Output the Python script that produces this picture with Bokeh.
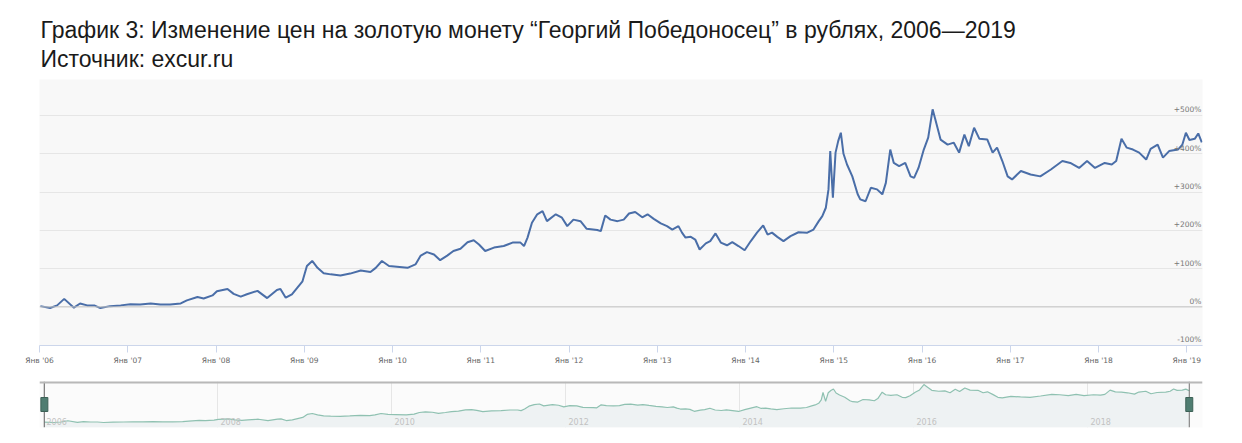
from bokeh.plotting import figure
from bokeh.models import FixedTicker, Span, ColumnDataSource, Range1d, Spacer
from bokeh.layouts import column
from bokeh.embed import file_html
from bokeh.resources import INLINE
from bokeh.core.properties import value

TITLE = "График 3: Изменение цен на золотую монету “Георгий Победоносец” в рублях, 2006—2019"
SUBTITLE = "Источник: excur.ru"

# time in fractional years, price change in %
dates = [
    2006.01, 2006.12, 2006.20, 2006.28, 2006.39, 2006.46, 2006.54, 2006.62, 2006.69, 2006.80,
    2006.92, 2007.03, 2007.14, 2007.26, 2007.37, 2007.48, 2007.60, 2007.67, 2007.79, 2007.86,
    2007.96, 2008.01, 2008.13, 2008.20, 2008.28, 2008.35, 2008.47, 2008.58, 2008.69, 2008.73,
    2008.79, 2008.86, 2008.92, 2008.98, 2009.03, 2009.09, 2009.15, 2009.22, 2009.30, 2009.41,
    2009.52, 2009.64, 2009.75, 2009.81, 2009.88, 2009.96, 2010.05, 2010.17, 2010.26, 2010.32,
    2010.39, 2010.47, 2010.54, 2010.62, 2010.69, 2010.77, 2010.85, 2010.92, 2010.98, 2011.05,
    2011.15, 2011.26, 2011.36, 2011.45, 2011.49, 2011.53, 2011.58, 2011.64, 2011.70, 2011.75,
    2011.85, 2011.92, 2011.98, 2012.05, 2012.13, 2012.20, 2012.32, 2012.36, 2012.41, 2012.47,
    2012.55, 2012.62, 2012.68, 2012.75, 2012.83, 2012.89, 2012.96, 2013.04, 2013.11, 2013.17,
    2013.24, 2013.28, 2013.32, 2013.38, 2013.43, 2013.48, 2013.55, 2013.60, 2013.66, 2013.72,
    2013.79, 2013.85, 2013.92, 2013.99, 2014.06, 2014.13, 2014.20, 2014.25, 2014.30, 2014.36,
    2014.43, 2014.51, 2014.60, 2014.70, 2014.77, 2014.83, 2014.87, 2014.91, 2014.94, 2014.96,
    2014.99, 2015.02, 2015.05, 2015.08, 2015.11, 2015.15, 2015.21, 2015.27, 2015.30, 2015.36,
    2015.42, 2015.49, 2015.55, 2015.59, 2015.64, 2015.68, 2015.74, 2015.81, 2015.87, 2015.91,
    2015.96, 2016.02, 2016.07, 2016.12, 2016.15, 2016.21, 2016.29, 2016.36, 2016.42, 2016.48,
    2016.53, 2016.59, 2016.65, 2016.74, 2016.80, 2016.85, 2016.91, 2016.97, 2017.02, 2017.12,
    2017.23, 2017.34, 2017.46, 2017.59, 2017.68, 2017.78, 2017.87, 2017.96, 2018.07, 2018.15,
    2018.20, 2018.26, 2018.32, 2018.39, 2018.46, 2018.54, 2018.59, 2018.67, 2018.73, 2018.80,
    2018.90, 2018.95, 2018.99, 2019.03, 2019.09, 2019.13, 2019.17,
]
change_pct = [
    2, -3, 4, 21, -2, 9, 4, 4, -3, 2,
    4, 7, 6, 9, 6, 6, 9, 17, 26, 22,
    30, 41, 47, 34, 27, 33, 42, 23, 44, 47,
    24, 33, 50, 67, 107, 120, 102, 88, 85, 82,
    87, 95, 91, 102, 120, 107, 105, 102, 111, 134,
    143, 137, 122, 134, 146, 152, 169, 174, 163, 146,
    155, 159, 168, 168, 159, 181, 220, 242, 250, 224,
    242, 233, 211, 228, 224, 204, 201, 198, 239, 228,
    224, 228, 244, 248, 234, 242, 230, 218, 211, 202,
    211, 194, 181, 183, 176, 150, 166, 172, 192, 168,
    161, 169, 159, 148, 172, 194, 213, 189, 194, 183,
    172, 185, 195, 194, 202, 224, 237, 259, 307, 407,
    285, 403, 433, 455, 400, 372, 341, 295, 281, 276,
    311, 307, 294, 324, 411, 376, 368, 376, 341, 337,
    363, 411, 442, 516, 490, 437, 424, 429, 403, 450,
    420, 468, 439, 437, 403, 416, 381, 341, 333, 355,
    346, 341, 359, 381, 376, 363, 381, 363, 376, 372,
    381, 439, 416, 411, 403, 385, 413, 424, 390, 407,
    411, 424, 455, 436, 439, 453, 430,
]

x_ticks = list(range(2006, 2020))
x_tick_labels = ["Янв '06", "Янв '07", "Янв '08", "Янв '09", "Янв '10", "Янв '11", "Янв '12",
                 "Янв '13", "Янв '14", "Янв '15", "Янв '16", "Янв '17", "Янв '18", "Янв '19"]
y_ticks = [-100, 0, 100, 200, 300, 400, 500]
y_tick_labels = ["-100%", "0%", "+100%", "+200%", "+300%", "+400%", "+500%"]
nav_years = [2006, 2008, 2010, 2012, 2014, 2016, 2018]
nav_labels = ["2006", "2008", "2010", "2012", "2014", "2016", "2018"]

LINE = "#4a6ea8"
FONT = "DejaVu Sans"

# ---------------- main chart ----------------
x0, x1 = 2006.0, 2019.178
y0, y1 = -100.8, 594
p = figure(frame_width=1163, frame_height=266, x_range=Range1d(x0, x1), y_range=Range1d(y0, y1),
           output_backend="svg", toolbar_location=None,
           min_border_left=39, min_border_right=40, min_border_bottom=32, min_border_top=0)
p.title.text = TITLE + "\n" + SUBTITLE
p.title.text_font = "Liberation Sans"
p.title.text_font_size = "23px"
p.title.text_font_style = "normal"
p.title.text_color = "#1a1a1a"
p.title.text_line_height = 1.13
p.title.offset = 1
p.title.standoff = 14
p.background_fill_color = "#f8f8f8"
p.border_fill_color = "white"
p.outline_line_color = None

p.yaxis.visible = False
p.xaxis.ticker = FixedTicker(ticks=x_ticks)
p.xaxis.major_label_overrides = {t: l for t, l in zip(x_ticks, x_tick_labels)}
p.xaxis.axis_line_color = "#ccd6eb"
p.xaxis.major_tick_line_color = "#ccd6eb"
p.xaxis.major_tick_out = 7
p.xaxis.major_tick_in = 0
p.xaxis.minor_tick_line_color = None
p.xaxis.major_label_text_font = FONT
p.xaxis.major_label_text_font_size = "7.5px"
p.xaxis.major_label_text_color = "#666666"
p.xaxis.major_label_standoff = 3

p.xgrid.visible = False
p.ygrid.ticker = FixedTicker(ticks=y_ticks)
p.ygrid.grid_line_color = "#e6e6e6"

p.add_layout(Span(location=0, dimension="width", line_color="#c4c4c4", line_width=1))

p.line(dates, change_pct, line_color=LINE, line_width=2)

ysrc = ColumnDataSource(dict(x=[x1] * len(y_ticks), y=y_ticks, t=y_tick_labels))
p.text(x="x", y="y", text="t", source=ysrc, text_align="right", text_baseline="bottom",
       y_offset=-1, x_offset=-1, text_font=value(FONT), text_font_size="7.5px", text_color="#777777")

# ---------------- navigator ----------------
nx0, nx1 = 2005.954, 2019.322
ny0, ny1 = -71, 557
n = figure(frame_width=1163, frame_height=46, x_range=Range1d(nx0, nx1), y_range=Range1d(ny0, ny1),
           output_backend="svg", toolbar_location=None,
           min_border_left=39, min_border_right=40, min_border_top=4, min_border_bottom=2)
n.background_fill_color = "#fbfbfb"
n.border_fill_color = "white"
n.outline_line_color = None
n.xaxis.visible = False
n.yaxis.visible = False
n.ygrid.visible = False
n.xgrid.ticker = FixedTicker(ticks=nav_years)
n.xgrid.grid_line_color = "#e6e6e6"

n.varea(x=dates, y1=[ny0] * len(dates), y2=change_pct, fill_color="#eef2f3", fill_alpha=1)
n.line(dates, change_pct, line_color="#8fc1b1", line_width=1.2)

nsrc = ColumnDataSource(dict(x=nav_years, y=[ny0] * len(nav_years), t=nav_labels))
n.text(x="x", y="y", text="t", source=nsrc, text_align="left", text_baseline="bottom",
       x_offset=3, y_offset=-3, text_font=value(FONT), text_font_size="8px", text_color="#c2c2c2")

n.add_layout(Span(location=ny1, dimension="width", line_color="#b8b8b8", line_width=4))

hx = [dates[0], dates[-1]]
n.segment(x0=hx, x1=hx, y0=[ny0, ny0], y1=[ny1, ny1], line_color="#6f6f6f", line_width=1)
n.rect(x=hx, y=[(ny0 + ny1) / 2] * 2, width=7, height=14, width_units="screen", height_units="screen",
       fill_color="#4f7d71", line_color="#3d6156", line_width=1)

layout = column(Spacer(height=8), p, n, spacing=0)
open("out.html", "w").write(file_html(layout, INLINE))
